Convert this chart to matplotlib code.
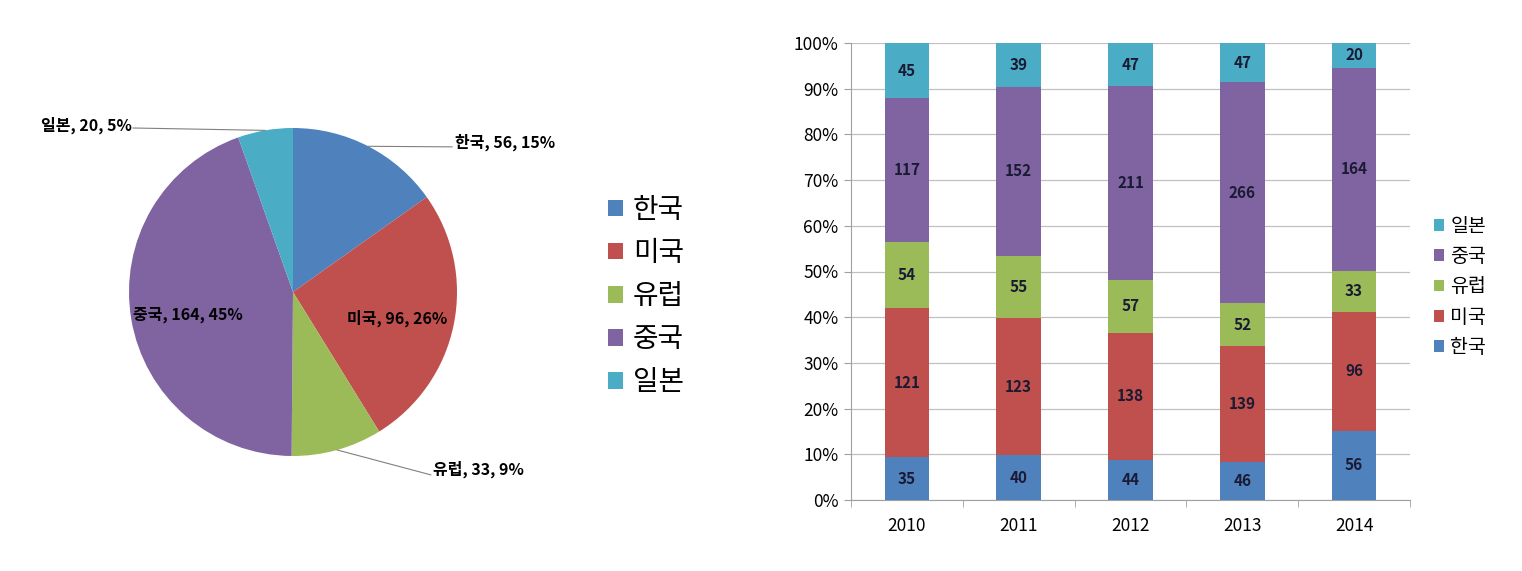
import matplotlib
matplotlib.use("Agg")
import matplotlib.pyplot as plt
import numpy as np
from matplotlib.patches import Patch

plt.rcParams['font.family'] = ['Noto Sans CJK KR', 'DejaVu Sans']

# 데이터
countries = ['한국', '미국', '유럽', '중국', '일본']
colors = ['#4F81BD', '#C0504D', '#9BBB59', '#8064A2', '#4BACC6']
years = ['2010', '2011', '2012', '2013', '2014']
korea = [35, 40, 44, 46, 56]
usa = [121, 123, 138, 139, 96]
europe = [54, 55, 57, 52, 33]
china = [117, 152, 211, 266, 164]
japan = [45, 39, 47, 47, 20]
pie_values = [56, 96, 33, 164, 20]

W, H = 1522, 571
fig = plt.figure(figsize=(W / 100, H / 100), dpi=100)

# ---- 원형 차트 ----
cx, cy, r = 293, 292, 164
ax1 = fig.add_axes([(cx - r) / W, (H - cy - r) / H, 2 * r / W, 2 * r / H])
wedges, _ = ax1.pie(pie_values, colors=colors, startangle=90, counterclock=False,
                    radius=1.0, wedgeprops=dict(linewidth=0))
ax1.set_xlim(-1, 1)
ax1.set_ylim(-1, 1)
ax1.set_aspect('equal')
ax1.axis('off')

# 엑셀 방식 퍼센트 (합계 100%)
total = sum(pie_values)
raw = [v / total * 100 for v in pie_values]
pct = [int(np.floor(x)) for x in raw]
order = sorted(range(len(raw)), key=lambda i: raw[i] - pct[i], reverse=True)
for i in order[:100 - sum(pct)]:
    pct[i] += 1

# 라벨 위치 (데이터 좌표, 반지름=1)
label_pos = {
    0: ('out', (0.985, 0.91), 'left', (0.97, 0.885)),
    1: ('in', None, 'center', None),
    2: ('out', (0.855, -1.08), 'left', (0.84, -1.115)),
    3: ('in', None, 'center', None),
    4: ('out', (-0.985, 1.015), 'right', (-0.975, 1.0)),
}
for i, w in enumerate(wedges):
    ang = np.deg2rad((w.theta1 + w.theta2) / 2)
    txt = f'{countries[i]}, {pie_values[i]}, {pct[i]}%'
    kind, pos, ha, end = label_pos[i]
    if kind == 'in':
        ax1.text(0.65 * np.cos(ang), 0.65 * np.sin(ang) - 0.03, txt, ha='center', va='center',
                 fontsize=11.5, fontweight='bold', color='black')
    else:
        sx, sy = np.cos(ang), np.sin(ang)
        ax1.plot([sx, end[0]], [sy, end[1]], color='#808080', lw=0.8, clip_on=False)
        ax1.text(pos[0], pos[1], txt, ha=ha, va='center', fontsize=11.5,
                 fontweight='bold', color='black', clip_on=False)

handles = [Patch(facecolor=c, edgecolor='none') for c in colors]
fig.legend(handles, countries, loc='upper left', bbox_to_anchor=(594 / W, 1 - 181 / H),
           frameon=False, fontsize=20, handlelength=0.55, handleheight=0.55,
           handletextpad=0.35, labelspacing=0.47, borderpad=0)

# ---- 누적 100% 막대 ----
ax2 = fig.add_axes([851 / W, (H - 500) / H, 559 / W, 457 / H])
series = [korea, usa, europe, china, japan]
totals = np.sum(series, axis=0)
x = np.arange(len(years))
bottom = np.zeros(len(years))
for vals, c in zip(series, colors):
    frac = np.array(vals) / totals
    ax2.bar(x, frac, 0.4, bottom=bottom, color=c, zorder=3)
    for xi, f, b, v in zip(x, frac, bottom, vals):
        ax2.text(xi, b + f / 2, str(v), ha='center', va='center', fontsize=11,
                 fontweight='bold', color='#1a1a33', zorder=4)
    bottom += frac

ax2.set_xlim(-0.5, len(years) - 0.5)
ax2.set_ylim(0, 1)
ax2.set_yticks(np.arange(0, 1.01, 0.1))
ax2.set_yticklabels([f'{int(round(t * 100))}%' for t in np.arange(0, 1.01, 0.1)])
ax2.set_xticks(x)
ax2.set_xticklabels(years)
ax2.set_xticks(np.arange(-0.5, len(years), 1), minor=True)
ax2.tick_params(axis='x', which='major', length=0, pad=12, labelsize=12.5)
ax2.tick_params(axis='x', which='minor', length=5, color='#a0a0a0', direction='out')
ax2.tick_params(axis='y', length=5, color='#a0a0a0', labelsize=12.5, pad=4)
ax2.yaxis.grid(True, color='#c0c0c0', lw=0.9, zorder=0)
for s in ['top', 'right']:
    ax2.spines[s].set_visible(False)
ax2.spines['left'].set_color('#a0a0a0')
ax2.spines['bottom'].set_color('#a0a0a0')

fig.legend(handles[::-1], countries[::-1], loc='upper left', bbox_to_anchor=(1424 / W, 1 - 206 / H),
           frameon=False, fontsize=14, handlelength=0.55, handleheight=0.55,
           handletextpad=0.3, labelspacing=0.48, borderpad=0)

fig.savefig('out.png', dpi=100)
